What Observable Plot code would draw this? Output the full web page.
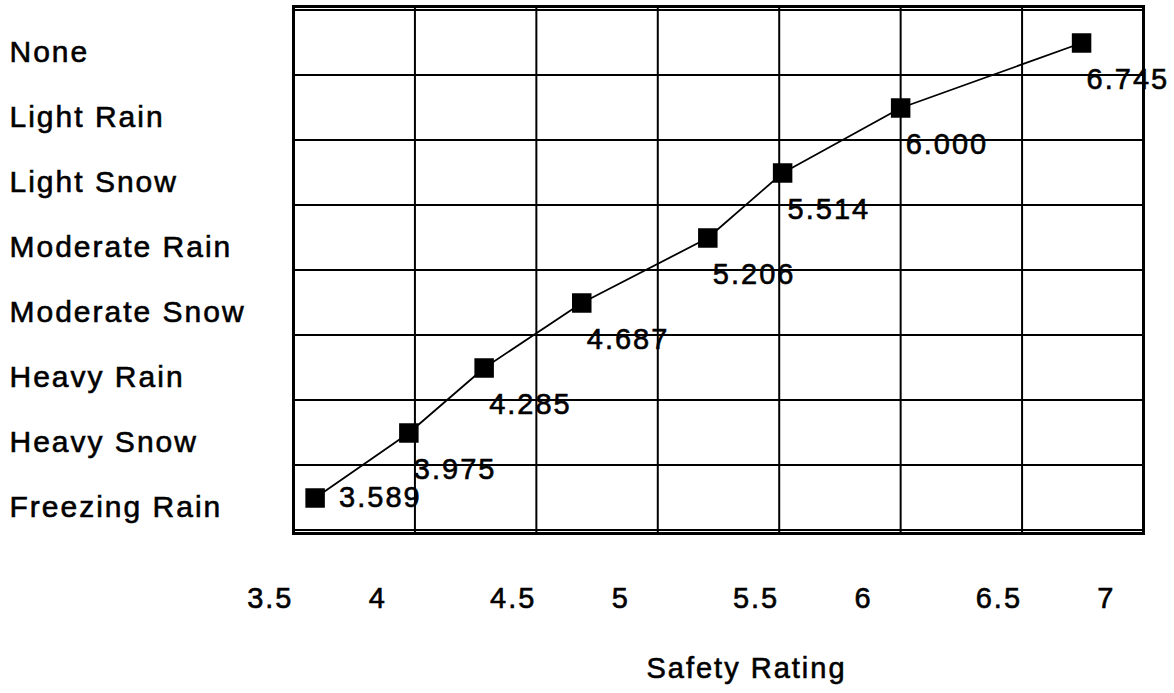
<!DOCTYPE html>
<html>
<head>
<meta charset="utf-8">
<script src="https://cdn.jsdelivr.net/npm/d3@7"></script>
<script src="https://cdn.jsdelivr.net/npm/@observablehq/plot@0.6"></script>
<style>
  html, body { margin: 0; padding: 0; background: #fff; }
  #chart svg text { stroke: #000; stroke-width: 0.6px; }
</style>
</head>
<body>
<div id="chart"></div>
<script>
// ---- data ----
const conditions = ["None", "Light Rain", "Light Snow", "Moderate Rain", "Moderate Snow", "Heavy Rain", "Heavy Snow", "Freezing Rain"];
const ratings = [6.745, 6.000, 5.514, 5.206, 4.687, 4.285, 3.975, 3.589];
const ratingLabels = ["6.745", "6.000", "5.514", "5.206", "4.687", "4.285", "3.975", "3.589"];
const xDomain = [3.5, 7];
const gridTicks = [3.5, 4, 4.5, 5, 5.5, 6, 6.5, 7];
const halfTicks = [3.5, 4.5, 5.5, 6.5];
const wholeTicks = [4, 5, 6, 7];
const xTitle = "Safety Rating";

const data = conditions.map((c, i) => ({condition: c, rating: ratings[i], label: ratingLabels[i]}));
const lastIndex = data.length - 1;

const chart = Plot.plot({
  width: 1174,
  height: 693,
  marginLeft: 293,
  marginRight: 31,
  marginTop: 6,
  marginBottom: 160,
  style: {
    fontFamily: "'Liberation Sans', Arial, Helvetica, sans-serif",
    background: "#fff",
    color: "#000",
    letterSpacing: "2px",
    overflow: "visible"
  },
  x: {type: "linear", domain: xDomain},
  y: {type: "band", domain: conditions, padding: 0},
  marks: [
    // horizontal gridlines (band boundaries)
    Plot.barX(conditions, {y: d => d, x1: () => xDomain[0], x2: () => xDomain[1], fill: "none", stroke: "#000", strokeWidth: 2}),
    // vertical gridlines
    Plot.ruleX(gridTicks, {stroke: "#000", strokeWidth: 2}),
    Plot.frame({stroke: "#000", strokeWidth: 3}),
    // series
    Plot.line(data, {x: "rating", y: "condition", stroke: "#000", strokeWidth: 1.8}),
    Plot.dot(data, {x: "rating", y: "condition", symbol: "square", r: 11, fill: "#000"}),
    // value labels
    Plot.text(data, {filter: (d, i) => i < lastIndex, x: "rating", y: "condition", text: "label",
      textAnchor: "start", dx: 5, dy: 37, fontSize: 29, fill: "#000"}),
    Plot.text(data, {filter: (d, i) => i === lastIndex, x: "rating", y: "condition", text: "label",
      textAnchor: "start", dx: 24, dy: 0, fontSize: 29, fill: "#000"}),
    // category axis
    Plot.axisY({anchor: "left", tickSize: 0, tickPadding: 284, textAnchor: "start", dy: 9, fontSize: 30, label: null}),
    // x tick labels
    Plot.axisX(halfTicks, {anchor: "bottom", tickSize: 0, tickPadding: 54, textAnchor: "end", dx: 0, fontSize: 29,
      tickFormat: d => String(d), label: null}),
    Plot.axisX(wholeTicks, {anchor: "bottom", tickSize: 0, tickPadding: 54, textAnchor: "end", dx: -28, fontSize: 29,
      tickFormat: d => String(d), label: null}),
    // x title
    Plot.text([xTitle], {frameAnchor: "bottom", text: d => d, dx: 28, dy: 144, fontSize: 29, fill: "#000"})
  ]
});

document.getElementById("chart").append(chart);
</script>
</body>
</html>
